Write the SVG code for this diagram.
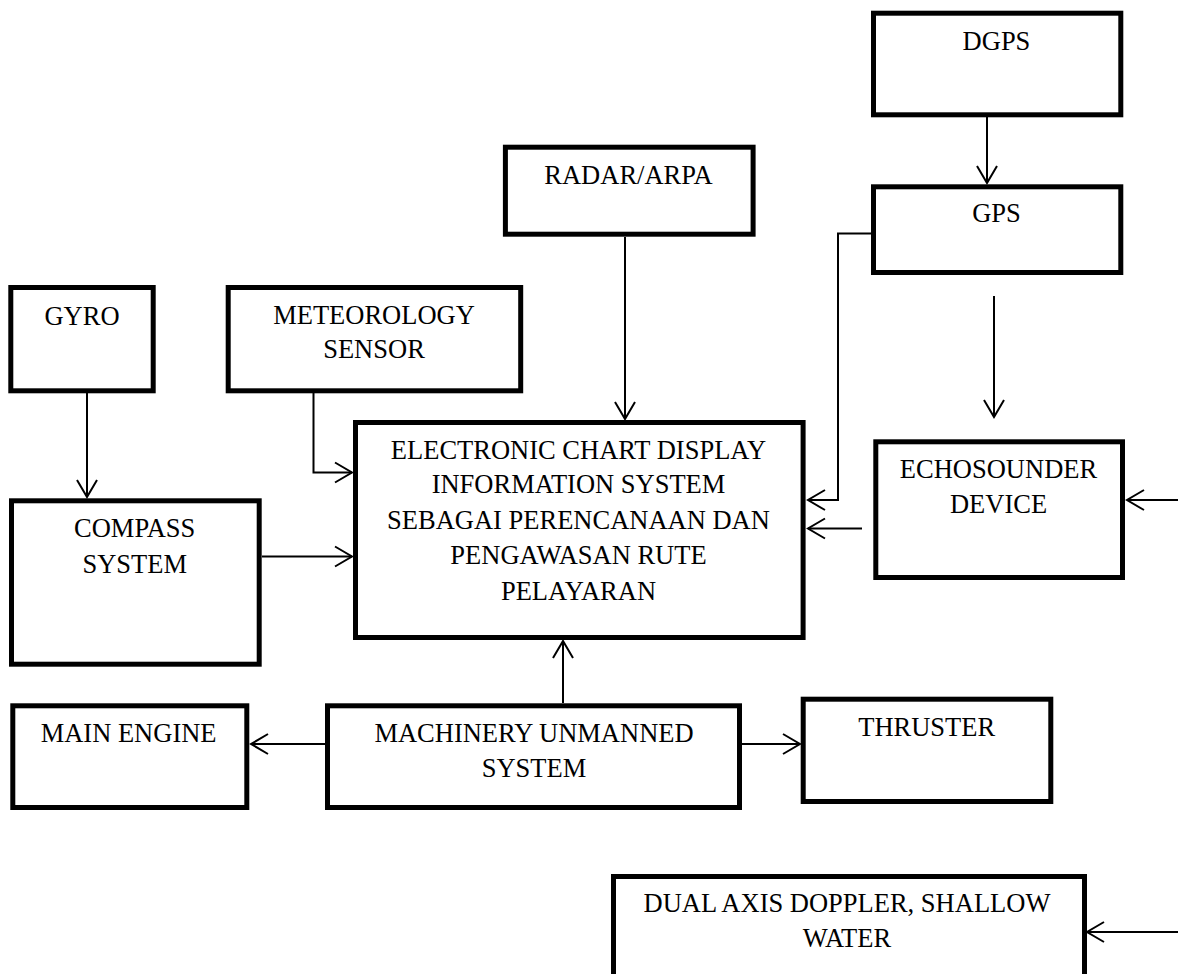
<svg xmlns="http://www.w3.org/2000/svg" width="1178" height="974" viewBox="0 0 1178 974">
<defs>
<style>
.box{fill:#fff;stroke:#000;stroke-width:5}
.t{font-family:"Liberation Serif","Times New Roman",serif;font-size:26.5px;fill:#000;text-anchor:middle}
.c{fill:none;stroke:#000;stroke-width:2}
</style>
<marker id="ah" markerUnits="userSpaceOnUse" markerWidth="22" markerHeight="26" viewBox="0 0 22 26" refX="19" refY="13" orient="auto">
<path d="M2,3 L19,13 L2,23" fill="none" stroke="#000" stroke-width="2"/>
</marker>
</defs>
<rect width="1178" height="974" fill="#fff"/>
<g id="connectors">
<line class="c" x1="987" y1="117" x2="987" y2="183" marker-end="url(#ah)"/>
<line class="c" x1="625" y1="237" x2="625" y2="419" marker-end="url(#ah)"/>
<polyline class="c" points="871,233.5 838,233.5 838,500 808,500" marker-end="url(#ah)"/>
<line class="c" x1="862" y1="528.5" x2="808" y2="528.5" marker-end="url(#ah)"/>
<line class="c" x1="994" y1="296" x2="994" y2="417" marker-end="url(#ah)"/>
<line class="c" x1="1178" y1="500" x2="1127" y2="500" marker-end="url(#ah)"/>
<line class="c" x1="87" y1="393" x2="87" y2="497" marker-end="url(#ah)"/>
<polyline class="c" points="313.5,393 313.5,472.5 352,472.5" marker-end="url(#ah)"/>
<line class="c" x1="262" y1="556.5" x2="352" y2="556.5" marker-end="url(#ah)"/>
<line class="c" x1="563" y1="703" x2="563" y2="641" marker-end="url(#ah)"/>
<line class="c" x1="325" y1="744" x2="251" y2="744" marker-end="url(#ah)"/>
<line class="c" x1="742" y1="744" x2="800" y2="744" marker-end="url(#ah)"/>
<line class="c" x1="1178" y1="932" x2="1087" y2="932" marker-end="url(#ah)"/>
</g>
<g id="dgps">
<rect class="box" x="873.5" y="13.2" width="247.3" height="101.6"/>
<text class="t" x="996.5" y="50">DGPS</text>
</g>
<g id="gps">
<rect class="box" x="873.5" y="186.8" width="247.3" height="85.7"/>
<text class="t" x="996.5" y="221.7">GPS</text>
</g>
<g id="radar">
<rect class="box" x="505.4" y="147.2" width="247.7" height="87"/>
<text class="t" x="628.5" y="184">RADAR/ARPA</text>
</g>
<g id="gyro">
<rect class="box" x="10.8" y="287.5" width="142.4" height="103.3"/>
<text class="t" x="82" y="325">GYRO</text>
</g>
<g id="meteo">
<rect class="box" x="228.2" y="287.5" width="292.5" height="103.3"/>
<text class="t" x="374" y="324.3">METEOROLOGY</text>
<text class="t" x="374" y="358.3">SENSOR</text>
</g>
<g id="ecdis">
<rect class="box" x="355.5" y="422.5" width="447.6" height="215"/>
<text class="t" x="578.5" y="459.3">ELECTRONIC CHART DISPLAY</text>
<text class="t" x="578.5" y="493.3">INFORMATION SYSTEM</text>
<text class="t" x="578.5" y="529">SEBAGAI PERENCANAAN DAN</text>
<text class="t" x="578.5" y="564">PENGAWASAN RUTE</text>
<text class="t" x="578.5" y="600">PELAYARAN</text>
</g>
<g id="echosounder">
<rect class="box" x="875.8" y="441.8" width="246.7" height="135.7"/>
<text class="t" x="998.5" y="478.3">ECHOSOUNDER</text>
<text class="t" x="998.5" y="513.3">DEVICE</text>
</g>
<g id="compass">
<rect class="box" x="11.5" y="500.8" width="247.7" height="163.4"/>
<text class="t" x="134.7" y="536.7">COMPASS</text>
<text class="t" x="134.7" y="572.7">SYSTEM</text>
</g>
<g id="main-engine">
<rect class="box" x="12.8" y="705.8" width="234" height="101.7"/>
<text class="t" x="128.6" y="741.7">MAIN ENGINE</text>
</g>
<g id="machinery">
<rect class="box" x="327.5" y="705.8" width="412" height="101.7"/>
<text class="t" x="534" y="741.7">MACHINERY UNMANNED</text>
<text class="t" x="534" y="776.7">SYSTEM</text>
</g>
<g id="thruster">
<rect class="box" x="803.2" y="699.2" width="247.6" height="102.3"/>
<text class="t" x="926.7" y="736">THRUSTER</text>
</g>
<g id="dual-axis-doppler">
<rect class="box" x="613.5" y="876.5" width="471" height="120"/>
<text class="t" x="847" y="911.7">DUAL AXIS DOPPLER, SHALLOW</text>
<text class="t" x="847" y="947.3">WATER</text>
</g>
</svg>
